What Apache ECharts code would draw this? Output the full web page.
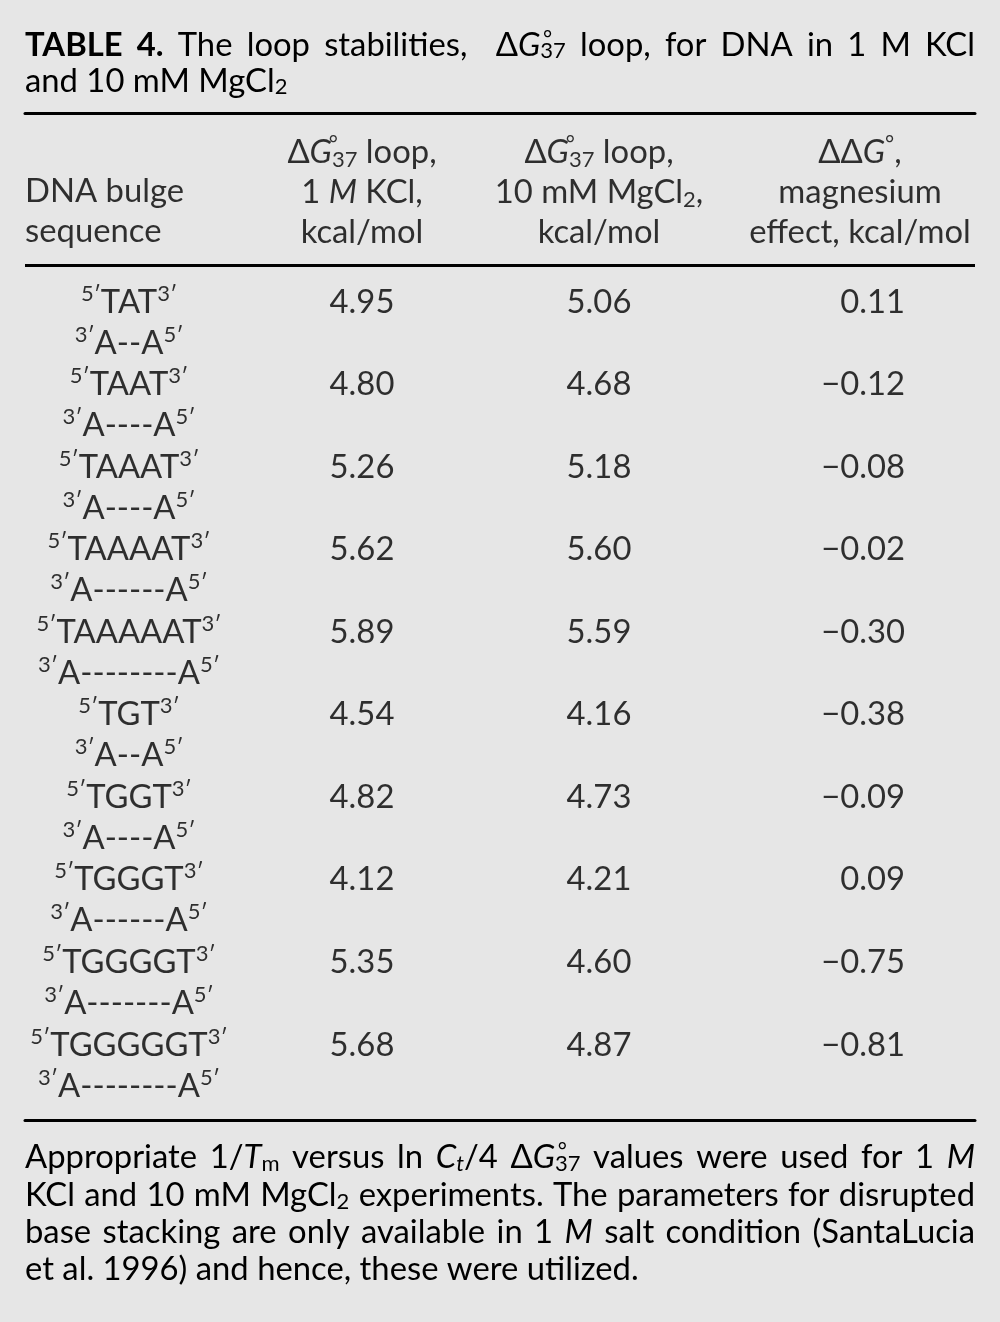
<!DOCTYPE html>
<html><head><meta charset="utf-8">
<script src="https://cdn.jsdelivr.net/npm/echarts@6/dist/echarts.min.js"></script>
<style>html,body{margin:0;padding:0;background:#e6e6e6}#c{width:1000px;height:1322px}</style>
</head><body><div id="c"></div>
<script>
// ---------------- data ----------------
const seqTop = ['TAT','TAAT','TAAAT','TAAAAT','TAAAAAT','TGT','TGGT','TGGGT','TGGGGT','TGGGGGT'];
const seqBottom = ['A--A','A----A','A----A','A------A','A--------A','A--A','A----A','A------A','A-------A','A--------A'];
const kclValues = [4.95, 4.80, 5.26, 5.62, 5.89, 4.54, 4.82, 4.12, 5.35, 5.68];
const mgcl2Values = [5.06, 4.68, 5.18, 5.60, 5.59, 4.16, 4.73, 4.21, 4.60, 4.87];
const magnesiumEffect = [0.11, -0.12, -0.08, -0.02, -0.30, -0.38, -0.09, 0.09, -0.75, -0.81];
const headerTexts = [
  '{n|DNA bulge}\n{n|sequence}',
  '{n|Δ}{i|G}{deg|\u2009°}{sub|37}{n| loop,}\n{n|1 }{i|M}{n| KCl,}\n{n|kcal/mol}',
  '{n|Δ}{i|G}{deg|\u2009°}{sub|37}{n| loop,}\n{n|10 mM MgCl}{sub|2}{n|,}\n{n|kcal/mol}',
  '{n|ΔΔ}{i|G}{sup|°}{n|,}\n{n|magnesium}\n{n|effect, kcal/mol}'
];
const titleLines = [
  [['b','TABLE 4.'],['n',' The loop stabilities,  Δ'],['i','G'],['deg','\u2009°'],['sub','37'],['n',' loop, for DNA in 1 M KCl']],
  [['n','and 10 mM MgCl'],['sub','2']]
];
const footnoteLines = [
  [['n','Appropriate 1/'],['i','T'],['sub','m'],['n',' versus ln '],['i','C'],['isub','t'],['n','/4 Δ'],['i','G'],['deg','\u2009°'],['sub','37'],['n',' values were used for 1 '],['i','M']],
  [['n','KCl and 10 mM MgCl'],['sub','2'],['n',' experiments. The parameters for disrupted']],
  [['n','base stacking are only available in 1 '],['i','M'],['n',' salt condition (SantaLucia']],
  [['n','et al. 1996) and hence, these were utilized.']]
];

// ---------------- layout ----------------
const FAMILY = 'Lato';
const mctx = document.createElement('canvas').getContext('2d');
function fontOf(st){ return (st.fontStyle||'normal')+' '+(st.fontWeight||'normal')+' '+st.fontSize+'px '+FAMILY; }
function tw(text, st){ if (st.width != null) return st.width; mctx.font = fontOf(st); return mctx.measureText(text).width; }
mctx.font = 'normal normal 100px ' + FAMILY;
const FS = Math.round(100 * 613 / mctx.measureText('et al. 1996) and hence, these were utilized.').width * 10) / 10;
const SS = Math.round(FS * 0.66);

function makeRich(lh){
  const base = {fontFamily: FAMILY, color: '#000'};
  return {
    n: Object.assign({}, base, {fontSize: FS, lineHeight: lh}),
    i: Object.assign({}, base, {fontSize: FS, lineHeight: lh, fontStyle: 'italic'}),
    b: Object.assign({}, base, {fontSize: FS, lineHeight: lh, fontWeight: 'bold'}),
    gap: Object.assign({}, base, {fontSize: FS, lineHeight: lh}),
    sup: Object.assign({}, base, {fontSize: SS, lineHeight: SS, verticalAlign: 'top', padding: [1,0,0,0]}),
    deg: Object.assign({}, base, {fontSize: SS, lineHeight: SS, verticalAlign: 'top', width: 0, align: 'left', padding: [1,0,0,0]}),
    sub: Object.assign({}, base, {fontSize: SS, lineHeight: SS, verticalAlign: 'bottom', padding: [0,0,1,0]}),
    isub: Object.assign({}, base, {fontSize: SS, lineHeight: SS, verticalAlign: 'bottom', fontStyle: 'italic', padding: [0,0,1,0]})
  };
}
function buildLine(segs, target, key, rich){
  const toks = [];
  segs.forEach(([s, t]) => t.split(/( )/).forEach(p => {
    if (p === '') return;
    toks.push(p === ' ' ? ['gap', ' '] : [s, p]);
  }));
  let gapName = 'gap';
  if (target) {
    let nat = 0, gaps = 0; const spw = tw(' ', rich.n);
    toks.forEach(([s, t]) => { if (s === 'gap') { nat += spw; gaps++; } else nat += tw(t, rich[s]); });
    gapName = 'gap' + key;
    rich[gapName] = Object.assign({}, rich.n, {width: spw + (target - nat) / gaps});
  }
  return toks.map(([s, t]) => '{' + (s === 'gap' ? gapName : s) + '|' + t + '}').join('');
}
const TEXT_W = 950;
const richTitle = makeRich(36);
const titleText = titleLines.map((l, k) => buildLine(l, k === 0 ? TEXT_W : 0, 't' + k, richTitle)).join('\n');
const richFoot = makeRich(37.3);
const footText = footnoteLines.map((l, k) => buildLine(l, k < footnoteLines.length - 1 ? TEXT_W : 0, 'f' + k, richFoot)).join('\n');
const richHead = makeRich(40);
const richSeq = makeRich(41);

// row unit = 82.55px; row 0 first line at y=302
const ROW = 82.55, Y0 = 302;
const yu = py => (py - Y0) / ROW;
const Y_TOP = yu(113.3), Y_BOTTOM = yu(1120.7), Y_RULE = yu(265.3);
const xu = px => (px - 25) / 950;
const COL_SEQ = xu(129), COL_KCL = xu(362), COL_MG = xu(599), COL_DDG = xu(905), COL_DDG_HEAD = xu(860);
const headerPos = [[xu(25), yu(211), 'left'], [COL_KCL, yu(192), 'center'], [COL_MG, yu(192), 'center'], [COL_DDG_HEAD, yu(192), 'center']];

const fmt = v => (v < 0 ? '\u2212' : '') + Math.abs(v).toFixed(2);
const axisCfg = pos => ({type: 'value', min: 0, max: 1, position: pos, gridIndex: 0,
  axisLine: {show: true, onZero: false, lineStyle: {color: '#000', width: 3}},
  axisTick: {show: false}, axisLabel: {show: false}, splitLine: {show: false}});
const hidden = {symbolSize: 1, itemStyle: {color: 'rgba(0,0,0,0)'}, silent: true, type: 'scatter'};
const valLabel = (align) => ({show: true, position: 'inside', align: align, verticalAlign: 'middle', fontFamily: FAMILY, fontSize: FS, color: '#000'});

const option = {
  backgroundColor: '#e6e6e6',
  animation: false,
  title: [
    {left: 25, top: 27, padding: 0, text: titleText, textStyle: {fontFamily: FAMILY, fontSize: FS, fontWeight: 'normal', lineHeight: 36, color: '#000', rich: richTitle}},
    {left: 25, top: 1139, padding: 0, text: footText, textStyle: {fontFamily: FAMILY, fontSize: FS, fontWeight: 'normal', lineHeight: 37.3, color: '#000', rich: richFoot}}
  ],
  grid: {left: 25, right: 25, top: 113.3, bottom: 1322 - 1120.7},
  xAxis: [axisCfg('top'), axisCfg('bottom')],
  yAxis: {type: 'value', inverse: true, min: Y_TOP, max: Y_BOTTOM, show: false},
  series: [
    Object.assign({}, hidden, {
      name: 'header',
      data: headerTexts.map((t, k) => ({value: [headerPos[k][0], headerPos[k][1]],
        label: {show: true, position: 'inside', align: headerPos[k][2], verticalAlign: 'middle', lineHeight: 40, formatter: t, rich: richHead}})),
      markLine: {silent: true, symbol: ['none', 'none'], label: {show: false},
        lineStyle: {color: '#000', width: 3, type: 'solid'}, data: [{yAxis: Y_RULE}]}
    }),
    Object.assign({}, hidden, {
      name: 'sequence',
      data: seqTop.map((s, k) => [COL_SEQ, k]),
      label: {show: true, position: 'inside', align: 'center', verticalAlign: 'middle', offset: [0, 20.5], lineHeight: 41, rich: richSeq,
        formatter: p => '{sup|5\u2032}{n|' + seqTop[p.dataIndex] + '}{sup|3\u2032}\n{sup|3\u2032}{n|' + seqBottom[p.dataIndex] + '}{sup|5\u2032}'}
    }),
    Object.assign({}, hidden, {name: '1 M KCl', data: kclValues.map((v, k) => [COL_KCL, k, v]),
      label: Object.assign(valLabel('center'), {formatter: p => fmt(p.value[2])})}),
    Object.assign({}, hidden, {name: '10 mM MgCl2', data: mgcl2Values.map((v, k) => [COL_MG, k, v]),
      label: Object.assign(valLabel('center'), {formatter: p => fmt(p.value[2])})}),
    Object.assign({}, hidden, {name: 'magnesium effect', data: magnesiumEffect.map((v, k) => [COL_DDG, k, v]),
      label: Object.assign(valLabel('right'), {formatter: p => fmt(p.value[2])})})
  ]
};
const chart = echarts.init(document.getElementById('c'), null, {renderer: 'canvas'});
chart.setOption(option);
</script></body></html>
